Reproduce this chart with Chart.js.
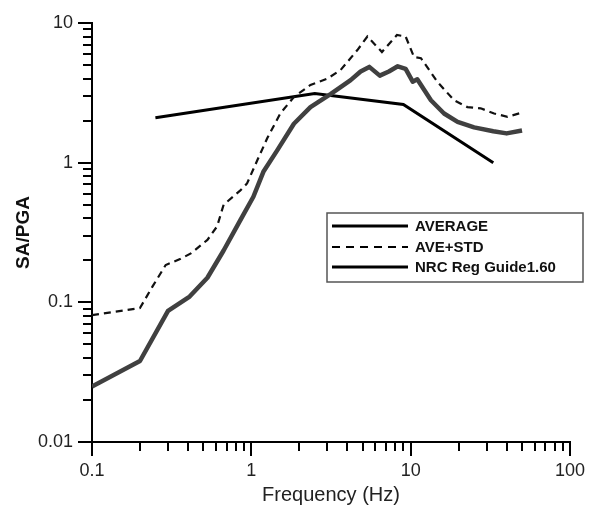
<!DOCTYPE html>
<html>
<head>
<meta charset="utf-8">
<script src="https://cdn.jsdelivr.net/npm/chart.js@4/dist/chart.umd.min.js"></script>
<style>
  html, body { margin: 0; padding: 0; background: #fff; }
  #wrap { width: 592px; height: 507px; }
</style>
</head>
<body>
<div id="wrap"><canvas id="c" width="592" height="507"></canvas></div>
<script>
// ---- Data ----
const avgFreq = [0.1, 0.2, 0.3, 0.41, 0.53, 0.67, 0.85, 1.03, 1.19, 1.45, 1.85, 2.35, 3.14, 4.2, 4.85, 5.5, 6.4, 7.3, 8.3, 9.3, 10.3, 11.0, 13.4, 16.2, 19.7, 25, 33, 40, 50];
const avgVals = [0.025, 0.038, 0.087, 0.11, 0.15, 0.235, 0.385, 0.57, 0.86, 1.22, 1.9, 2.5, 3.1, 3.9, 4.5, 4.85, 4.2, 4.5, 4.9, 4.7, 3.8, 3.95, 2.8, 2.25, 1.96, 1.79, 1.68, 1.62, 1.7];

const stdFreq = [0.1, 0.2, 0.24, 0.29, 0.36, 0.42, 0.53, 0.61, 0.67, 0.85, 0.94, 1.09, 1.26, 1.52, 1.85, 2.35, 3.0, 3.63, 4.63, 5.35, 6.6, 8.2, 9.3, 10.5, 11.6, 14.7, 18.7, 22.7, 27.5, 33.4, 40.5, 49];
const stdVals = [0.081, 0.091, 0.13, 0.185, 0.205, 0.225, 0.28, 0.35, 0.5, 0.63, 0.71, 1.04, 1.5, 2.25, 2.95, 3.6, 4.0, 4.6, 6.4, 8.0, 6.2, 8.2, 8.0, 5.7, 5.6, 3.8, 2.8, 2.5, 2.45, 2.25, 2.13, 2.27];

const nrcFreq = [0.25, 2.5, 9, 33];
const nrcVals = [2.1, 3.13, 2.61, 1.0];

const seriesLabels = ['AVERAGE', 'AVE+STD', 'NRC Reg Guide1.60'];
const xTickLabels = ['0.1', '1', '10', '100'];
const yTickLabels = ['0.01', '0.1', '1', '10'];
const xTitle = 'Frequency (Hz)';
const yTitle = 'SA/PGA';

// ---- helpers ----
function pts(fs, vs) { return fs.map((f, i) => ({ x: f, y: vs[i] })); }
function logTicks(labels) {
  const decades = labels.map(Number);
  const out = [];
  for (let d = 0; d < decades.length - 1; d++) {
    for (let m = 1; m <= 9; m++) {
      out.push({ value: +(decades[d] * m).toPrecision(6), major: m === 1 });
    }
  }
  out.push({ value: decades[decades.length - 1], major: true });
  return out;
}
function labelFor(labels, v) {
  for (const l of labels) { if (Math.abs(Number(l) - v) < 1e-9 * Math.max(1, v)) return l; }
  return '';
}

const FONT = "'Liberation Sans', Arial, sans-serif";

const tickPlugin = {
  id: 'logTickMarks',
  afterDraw(chart) {
    const ctx = chart.ctx;
    ctx.save();
    ctx.strokeStyle = '#000';
    ['x', 'y'].forEach(id => {
      const s = chart.scales[id];
      s.ticks.forEach(t => {
        const len = t.major ? 14 : 9;
        const p = Math.round(s.getPixelForValue(t.value));
        ctx.lineWidth = 2;
        ctx.beginPath();
        if (id === 'x') { ctx.moveTo(p, s.top); ctx.lineTo(p, s.top + len); }
        else { ctx.moveTo(s.right, p); ctx.lineTo(s.right - len, p); }
        ctx.stroke();
      });
    });
    ctx.restore();
  }
};

const legendPlugin = {
  id: 'boxLegend',
  afterDraw(chart) {
    const ctx = chart.ctx;
    const bx = 327, by = 213, bw = 256, bh = 69;
    ctx.save();
    ctx.fillStyle = '#fff';
    ctx.fillRect(bx, by, bw, bh);
    ctx.strokeStyle = '#555';
    ctx.lineWidth = 1.5;
    ctx.strokeRect(bx, by, bw, bh);
    const rows = [226, 247, 267];
    chart.data.datasets.forEach((ds, i) => {
      const y = rows[i];
      ctx.beginPath();
      ctx.setLineDash(ds.legendDash || []);
      ctx.lineWidth = ds.legendWidth;
      ctx.strokeStyle = '#000';
      ctx.moveTo(332, y); ctx.lineTo(408, y);
      ctx.stroke();
      ctx.setLineDash([]);
      ctx.fillStyle = '#111';
      ctx.font = "bold 15px " + FONT;
      ctx.textBaseline = 'middle';
      ctx.textAlign = 'left';
      ctx.fillText(ds.label, 415, y + 1);
    });
    ctx.restore();
  }
};

new Chart(document.getElementById('c'), {
  type: 'line',
  data: {
    datasets: [
      { label: seriesLabels[0], data: pts(avgFreq, avgVals), borderColor: '#404040', borderWidth: 4.5, borderJoinStyle: 'round', pointRadius: 0, tension: 0, fill: false, legendWidth: 3 },
      { label: seriesLabels[1], data: pts(stdFreq, stdVals), borderColor: '#111', borderWidth: 2.2, borderDash: [7, 5], pointRadius: 0, tension: 0, fill: false, legendWidth: 2, legendDash: [8, 6] },
      { label: seriesLabels[2], data: pts(nrcFreq, nrcVals), borderColor: '#000', borderWidth: 3, pointRadius: 0, tension: 0, fill: false, legendWidth: 3 }
    ]
  },
  options: {
    responsive: false,
    animation: false,
    devicePixelRatio: 1,
    layout: { padding: { top: 23, right: 22, left: 0, bottom: 0 } },
    plugins: { legend: { display: false }, tooltip: { enabled: false } },
    scales: {
      x: {
        type: 'logarithmic',
        min: 0.1, max: 100,
        afterBuildTicks: s => { s.ticks = logTicks(xTickLabels); },
        afterFit: s => { s.height = 65; },
        grid: { display: false, drawTicks: true, tickLength: 14 },
        border: { display: true, color: '#000', width: 2 },
        ticks: {
          autoSkip: false, maxRotation: 0, padding: 4, color: '#222',
          font: { family: FONT, size: 18 },
          callback: (v) => labelFor(xTickLabels, v)
        },
        title: { display: true, text: xTitle, color: '#222', font: { family: FONT, size: 20 }, padding: { top: 0, bottom: 0 } }
      },
      y: {
        type: 'logarithmic',
        min: 0.01, max: 10,
        afterBuildTicks: s => { s.ticks = logTicks(yTickLabels); },
        afterFit: s => { s.width = 92; },
        grid: { display: false, drawTicks: true, tickLength: 14 },
        border: { display: true, color: '#000', width: 2 },
        ticks: {
          autoSkip: false, padding: 5, color: '#222',
          font: { family: FONT, size: 18 },
          callback: (v) => labelFor(yTickLabels, v)
        },
        title: { display: true, text: yTitle, color: '#111', font: { family: FONT, size: 19, weight: 'bold' }, padding: { top: 12, bottom: 0 } }
      }
    }
  },
  plugins: [tickPlugin, legendPlugin]
});
</script>
</body>
</html>
